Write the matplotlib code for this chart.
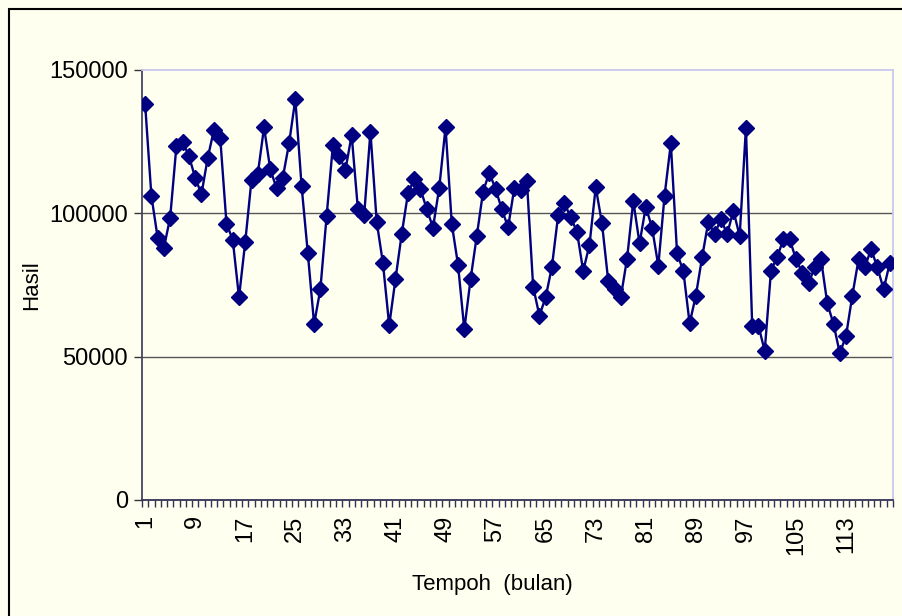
import matplotlib
matplotlib.use("Agg")
import matplotlib.pyplot as plt
from matplotlib.patches import Rectangle
from matplotlib.ticker import FixedLocator, NullFormatter

plt.rcParams['font.family'] = ['Liberation Sans', 'DejaVu Sans']

months = list(range(1, 121))
hasil = [
    138100, 106100, 91500, 88000, 98500, 123500, 124900, 120000, 112400, 106700,
    119300, 129200, 126300, 96400, 90800, 70700, 90100, 111800, 113700, 130000,
    115300, 108800, 112500, 124400, 139800, 109500, 86000, 61400, 73500, 99100,
    123700, 120100, 115100, 127300, 101400, 99400, 128500, 97100, 82600, 60900,
    77000, 92800, 107000, 111900, 108400, 101500, 95000, 109000, 130000, 96300,
    82000, 59500, 77000, 92200, 107600, 114200, 108400, 101400, 95100, 109000,
    108100, 111300, 74400, 64300, 70700, 81400, 99400, 103500, 98600, 93600,
    79900, 89000, 109100, 96500, 76400, 73600, 70700, 84100, 104300, 89500,
    102300, 95000, 81700, 106200, 124400, 86000, 79900, 61600, 71300, 84700,
    97100, 92800, 97900, 92800, 100900, 92100, 129900, 60800, 60800, 52000,
    79900, 84900, 90900, 90900, 84000, 79300, 75600, 81200, 84000, 68600,
    61400, 51200, 57300, 71300, 84000, 81200, 87500, 81200, 73500, 82800,
]
xtick_labels = [str(m) for m in range(1, 121, 8)]
ytick_values = [0, 50000, 100000, 150000]

bg = '#FFFFF0'
fig = plt.figure(figsize=(9.03, 6.16), dpi=100, facecolor=bg)
ax = fig.add_axes([142/903, 116/616, 751/903, 430/616], facecolor=bg)

ax.plot(months, hasil, color='#000080', lw=1.7, marker='D', markersize=8,
        markerfacecolor='#000080', markeredgecolor='#000080', zorder=3)

ax.set_xlim(0.5, 120.5)
ax.set_ylim(0, 150000)

for v in ytick_values[1:3]:
    ax.axhline(v, color='#555555', lw=1.0, zorder=1)

ax.set_yticks(ytick_values)
ax.set_yticklabels([str(v) for v in ytick_values], fontsize=17)
ax.tick_params(axis='y', direction='out', length=6, width=1, color='#333333', pad=4)

ax.xaxis.set_major_locator(FixedLocator([int(s) for s in xtick_labels]))
ax.set_xticklabels(xtick_labels, rotation=90, fontsize=17)
ax.xaxis.set_minor_locator(FixedLocator([i + 0.5 for i in range(0, 121)]))
ax.xaxis.set_minor_formatter(NullFormatter())
ax.tick_params(axis='x', which='major', length=0, pad=11)
ax.tick_params(axis='x', which='minor', direction='out', length=5, width=1, color='#333355')

ax.spines['left'].set_color('#444466')
ax.spines['bottom'].set_color('#333355')
ax.spines['top'].set_color('#C8C8F0')
ax.spines['right'].set_color('#C8C8F0')
for s in ax.spines.values():
    s.set_linewidth(1.3)

ax.set_ylabel('Hasil', fontsize=16)
ax.yaxis.set_label_coords(-0.133, 0.5)
ax.set_xlabel('Tempoh  (bulan)', fontsize=16)
ax.xaxis.set_label_coords(0.467, -0.172)

fig.patches.append(Rectangle((9/903, -0.05), 1.0, 1 - 9/616 + 0.05,
                             transform=fig.transFigure, fill=False,
                             edgecolor='black', lw=1.5))

fig.savefig('out.png', dpi=100, facecolor=bg)
